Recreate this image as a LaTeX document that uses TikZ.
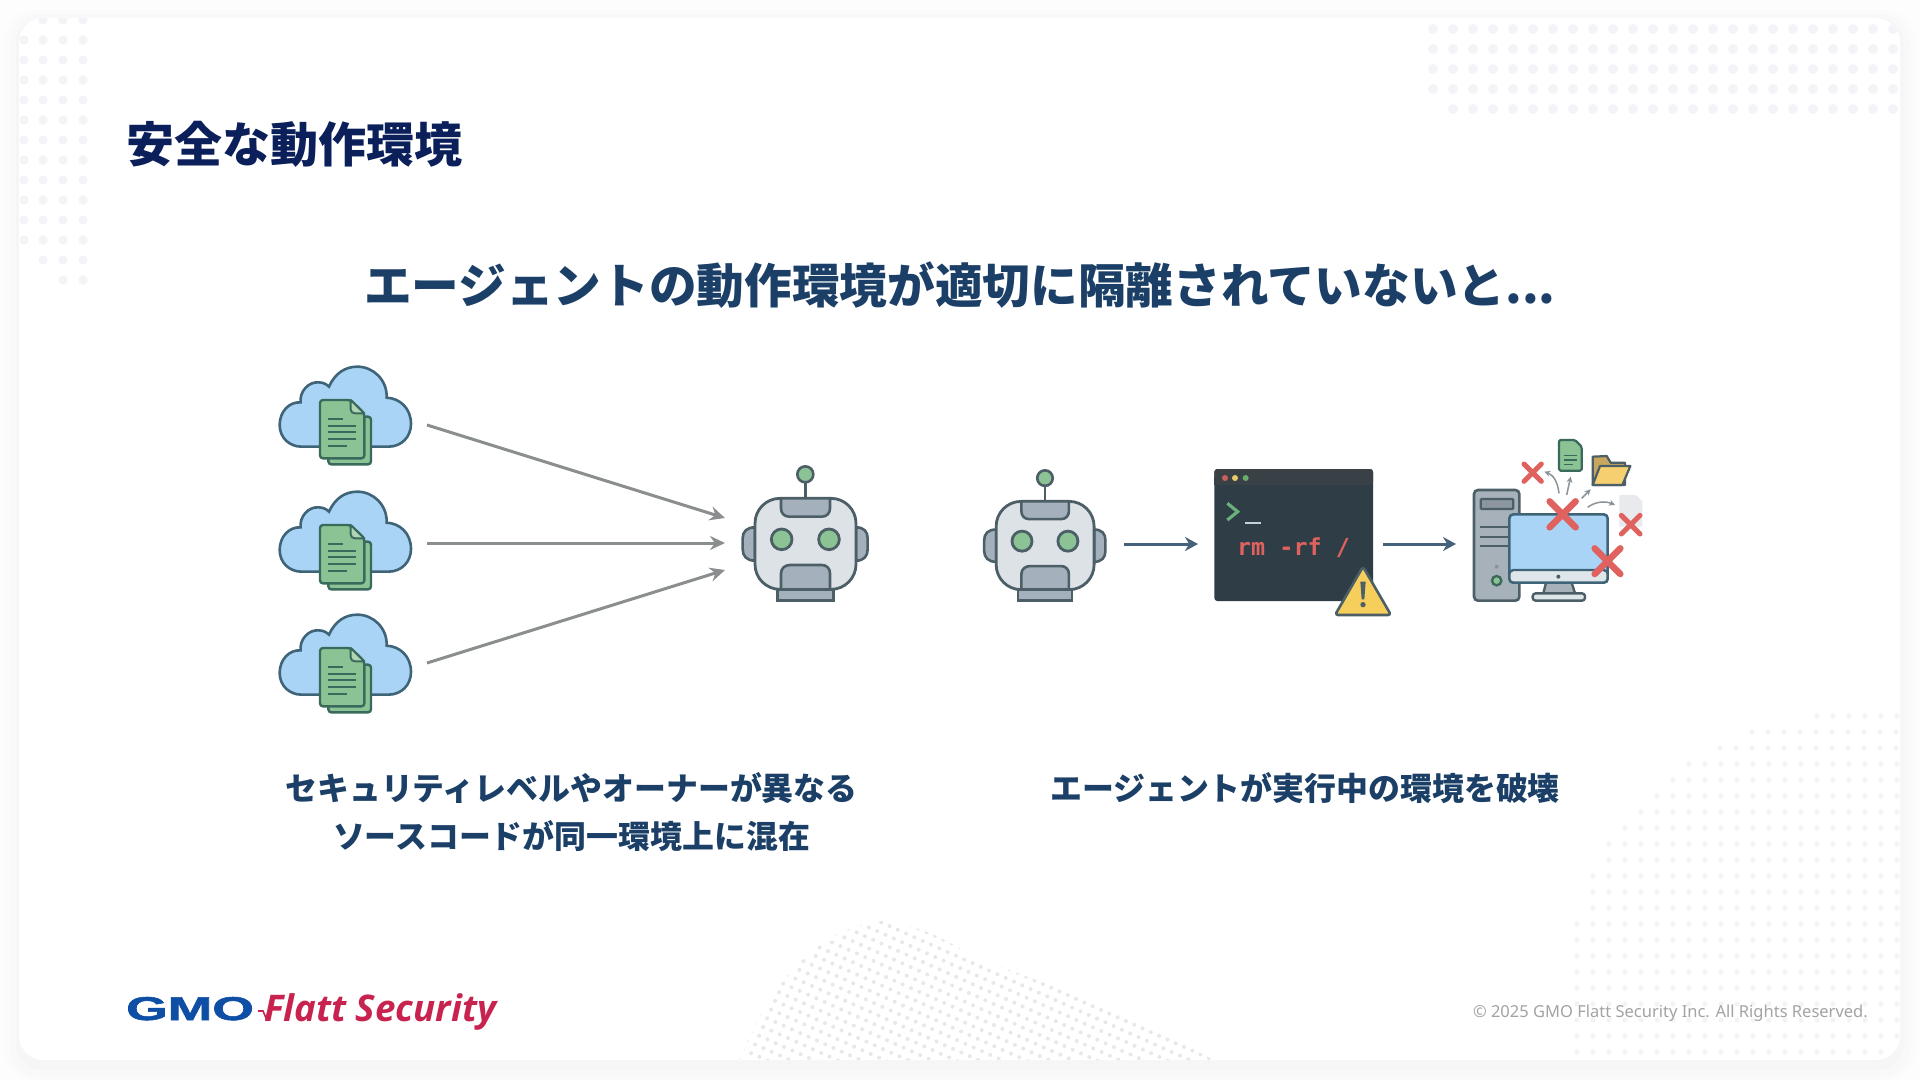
\documentclass[tikz,border=0pt]{standalone}
\usepackage{fontspec}
\usetikzlibrary{arrows.meta,calc}
\newfontfamily\jpfont{Noto Sans CJK JP}
\newfontfamily\monobold{DejaVu Sans Mono}
\newfontfamily\footfont{Noto Sans}
\newfontfamily\logofont[BoldFeatures={FakeBold=1.5}]{Liberation Sans}
\newfontfamily\logoit[ItalicFeatures={FakeBold=0.6}]{Open Sans}
\definecolor{titlecol}{HTML}{0B1F5B}
\definecolor{headcol}{HTML}{1B3F66}
\definecolor{cloudfill}{HTML}{A9D4F5}
\definecolor{cloudline}{HTML}{3F6478}
\definecolor{docfill}{HTML}{8CC394}
\definecolor{docline}{HTML}{3A6A5C}
\definecolor{botline}{HTML}{4C5F66}
\definecolor{botface}{HTML}{DDE2E7}
\definecolor{botplate}{HTML}{A4B1BC}
\definecolor{arrowgray}{HTML}{8B8E8E}
\definecolor{arrowblue}{HTML}{46627A}
\definecolor{termbg}{HTML}{2F3D46}
\definecolor{termbar}{HTML}{3A4146}
\definecolor{redx}{HTML}{DF625E}
\definecolor{warnfill}{HTML}{F6CE5C}
\definecolor{foldback}{HTML}{C7A660}
\definecolor{foldfront}{HTML}{F5CF70}
\definecolor{towerfill}{HTML}{A6B1B9}
\definecolor{screenband}{HTML}{DEE6EA}
\definecolor{ghost}{HTML}{E9EAED}
\definecolor{smallarrow}{HTML}{8B9599}
\definecolor{gmoblue}{HTML}{0E4FA5}
\definecolor{flattred}{HTML}{C8224E}
\definecolor{foottext}{HTML}{A3A3A6}
\tikzset{
  titletext/.style={font=\jpfont\bfseries\fontsize{48}{58}\selectfont,text=titlecol,inner sep=0pt,anchor=west},
  headtext/.style={font=\jpfont\bfseries\fontsize{47.65}{58}\selectfont,text=headcol,inner sep=0pt},
  captext/.style={font=\jpfont\bfseries\fontsize{31.9}{48.5}\selectfont,text=headcol,inner sep=0pt,align=center},
  grayarrow/.style={draw=arrowgray,line width=3pt,-{Stealth[length=15pt,width=14pt]}},
  bluearrow/.style={draw=arrowblue,line width=3pt,-{Stealth[length=13pt,width=14pt]}},
  redcross/.style={draw=redx,line cap=round},
  tinyarrow/.style={draw=smallarrow,line width=1.5pt,-{Stealth[length=6pt,width=6pt]}},
  cloudpic/.pic={
    \draw[fill=cloudfill,draw=cloudline,line width=2.6pt]
      (125,290) .. controls (87,290) and (59,262) .. (59,225)
      .. controls (59,185) and (87,155) .. (122,157)
      .. controls (118,125) and (145,95) .. (175,97)
      .. controls (190,97) and (200,103) .. (207,110)
      .. controls (225,70) and (255,50) .. (292,50)
      .. controls (340,50) and (382,90) .. (380,143)
      .. controls (420,145) and (453,175) .. (453,222)
      .. controls (453,260) and (425,290) .. (385,290) -- cycle;
    \draw[fill=docfill,draw=docline,line width=2.4pt,rounded corners=3pt] (205,200) rectangle (333,343);
    \draw[fill=docfill,draw=docline,line width=2.4pt,rounded corners=3pt]
      (180,150) -- (272,150) -- (313,190) -- (313,325) -- (180,325) -- cycle;
    \draw[fill=docfill!70!white,draw=docline,line width=2pt,line join=round]
      (272,150) -- (272,178) .. controls (272,186) and (278,190) .. (285,190) -- (313,190) -- cycle;
    \draw[docline,line width=1.8pt]
      (205,207) -- (250,207) (205,227) -- (287,227) (205,247) -- (287,247)
      (205,267) -- (287,267) (205,287) -- (260,287);
  },
  robotpic/.pic={
    \draw[botline,line width=2.6pt] (256,97) -- (256,145);
    \draw[fill=docfill,draw=botline,line width=2.6pt] (256,73) circle (24);
    \draw[fill=botplate,draw=botline,line width=2.6pt]
      (105,232) .. controls (80,232) and (68,245) .. (68,265) -- (68,298)
      .. controls (68,318) and (80,332) .. (105,332) -- cycle;
    \draw[fill=botplate,draw=botline,line width=2.6pt]
      (408,232) .. controls (432,232) and (443,245) .. (443,265) -- (443,298)
      .. controls (443,318) and (432,332) .. (408,332) -- cycle;
    \draw[fill=botface,draw=botline,line width=2.8pt,rounded corners=25pt] (105,145) rectangle (408,418);
    \draw[fill=botplate,draw=botline,line width=2.6pt]
      (183,145) -- (183,175) .. controls (183,190) and (193,200) .. (208,200) -- (305,200)
      .. controls (320,200) and (330,190) .. (330,175) -- (330,145) -- cycle;
    \draw[fill=docfill,draw=botline,line width=2.8pt] (185,268) circle (31);
    \draw[fill=docfill,draw=botline,line width=2.8pt] (327,268) circle (31);
    \draw[fill=botplate,draw=botline,line width=2.6pt]
      (183,418) -- (183,370) .. controls (183,355) and (195,345) .. (210,345) -- (305,345)
      .. controls (320,345) and (330,355) .. (330,370) -- (330,418) -- cycle;
    \draw[fill=botplate,draw=botline,line width=2.6pt] (173,418) rectangle (340,452);
  }
}
\begin{document}
\begin{tikzpicture}[x=1pt,y=-1pt]
\useasboundingbox (0,0) rectangle (1920,1080);
% page and soft shadow
\fill[fill={rgb,255:red,253;green,253;blue,253}] (0,0) rectangle (1920,1080);
\fill[fill={rgb,255:red,251;green,251;blue,252},rounded corners=34pt] (4,10) rectangle (1916,1080);
\fill[fill={rgb,255:red,249;green,249;blue,250},rounded corners=30pt] (10,14) rectangle (1910,1078);
\fill[fill={rgb,255:red,246;green,246;blue,247},rounded corners=26pt] (16,18) rectangle (1904,1070);
\begin{scope}
\fill[white,rounded corners=24pt] (19,18) rectangle (1900,1060);
\clip[rounded corners=24pt] (19,18) rectangle (1900,1060);
% dots: top right
\fill[fill={rgb,255:red,244;green,244;blue,248}]
  \foreach \yy in {29,49,69,89} { \foreach \xx in {1433,1453,...,1893} { (\xx,\yy) circle (5) } }
  \foreach \xx in {1453,1473,...,1893} { (\xx,109) circle (5) };
% dots: top left
\fill[fill={rgb,255:red,243;green,244;blue,247}]
  \foreach \xx in {24,43,63,83} { \foreach \yy in {20,40,...,240} { (\xx,\yy) circle (4.6) } }
  \foreach \xx in {43,63,83} { (\xx,260) circle (4.6) }
  (63,280) circle (4.6) (83,280) circle (4.6);
% dots: bottom right
\fill[fill={rgb,255:red,242;green,243;blue,245}]
  \foreach \yy/\xs in {716/1817,732/1752,748/1720,764/1689,780/1673,796/1657,812/1641,828/1625,844/1609,860/1609,876/1593,892/1593,908/1593,924/1577,940/1577,956/1577,972/1577,988/1577,1004/1577,1020/1577,1036/1577,1052/1577}
  { \foreach \xx in {0,16,...,336} { \ifnum\numexpr\xs+\xx\relax<1905 ({\xs+\xx},\yy) circle (2.5) \fi } };
% dots: bottom centre
\begin{scope}
\clip plot[smooth] coordinates {(735,1070) (763,1010) (790,973) (817,947) (847,930) (883,921) (930,933) (983,960) (1063,990) (1157,1030) (1235,1072)} -- cycle;
\fill[fill={rgb,255:red,232;green,232;blue,234}]
  \foreach \i in {-12,...,54} { \foreach \j in {-10,...,22} { ({840+8.3*\i-4*\j},{925+3.7*\i+8.7*\j}) circle (2) } };
\end{scope}
\end{scope}
% texts
\node[titletext] (pagetitle) at (126,144) {安全な動作環境};
\node[headtext] (subhead) at (960,285) {エージェントの動作環境が適切に隔離されていないと...};
\node[captext] (capleft) at (571.5,812) {セキュリティレベルやオーナーが異なる\\ソースコードが同一環境上に混在};
\node[captext] (capright) at (1305,788) {エージェントが実行中の環境を破壊};
% clouds
\pic[scale=1/3] at (260,350) {cloudpic};
\pic[scale=1/3] at (260,475) {cloudpic};
\pic[scale=1/3] at (260,598) {cloudpic};
% robots
\pic[scale=1/3] at (720,450) {robotpic};
\pic[scale=0.3233] at (962.2,454.5) {robotpic};
% connector ends
\coordinate (cloudA) at (427,425);
\coordinate (cloudB) at (427,543);
\coordinate (cloudC) at (427,663);
\coordinate (botA) at (725,518);
\coordinate (botB) at (725,543);
\coordinate (botC) at (725,570);
\coordinate (botOut) at (1124,544);
\coordinate (termIn) at (1198,544);
\coordinate (termOut) at (1383,544);
\coordinate (pcIn) at (1456,544);
\draw[grayarrow] (cloudA) -- (botA);
\draw[grayarrow] (cloudB) -- (botB);
\draw[grayarrow] (cloudC) -- (botC);
\draw[bluearrow] (botOut) -- (termIn);
\draw[bluearrow] (termOut) -- (pcIn);
% terminal
\begin{scope}[shift={(1200,460)},scale=1/3]
\fill[termbg,rounded corners=3pt] (43,27) rectangle (519,423);
\fill[termbar,rounded corners=3pt] (43,27) rectangle (519,75);
\fill[termbar] (43,50) rectangle (519,75);
\fill[fill={rgb,255:red,201;green,96;blue,90}] (75,54) circle (9);
\fill[fill={rgb,255:red,237;green,200;blue,107}] (105,54) circle (9);
\fill[fill={rgb,255:red,105;green,173;blue,110}] (137,54) circle (9);
\draw[draw={rgb,255:red,106;green,176;blue,122},line width=3.2pt] (82,130) -- (113,155) -- (82,180);
\draw[draw={rgb,255:red,197;green,208;blue,213},line width=2.2pt] (135,190) -- (182,190);
\draw[fill=warnfill,draw=botline,line width=2.6pt,line join=round,rounded corners=3pt] (489,320) -- (573,465) -- (405,465) -- cycle;
\fill[botline] (481,365) -- (497,365) -- (493,418) -- (485,418) -- cycle;
\fill[botline] (489,434) circle (8);
\end{scope}
\node[font=\monobold\bfseries\fontsize{23.4}{28}\selectfont,text=redx,inner sep=0pt] (termcmd) at (1293.5,548) {rm -rf /};
% computer
\begin{scope}[shift={(1460,430)},scale=1/3]
\draw[fill=towerfill,draw=botline,line width=2.6pt,rounded corners=4pt] (42,180) rectangle (178,512);
\draw[fill=botplate!85!black,draw=botline,line width=2.2pt,rounded corners=1pt] (62,207) rectangle (160,237);
\draw[botline,line width=2.2pt] (60,290) -- (150,290) (60,320) -- (150,320) (60,348) -- (150,348);
\fill[smallarrow] (110,410) circle (6);
\draw[fill=docfill,draw=docline,line width=2.4pt] (110,452) circle (14);
\draw[fill=cloudfill,draw=cloudline,line width=2.6pt,rounded corners=4pt] (148,253) rectangle (443,458);
\fill[towerfill] (258,458) -- (335,458) -- (345,490) -- (250,490) -- cycle;
\draw[botline,line width=2.4pt] (258,458) -- (250,490) (335,458) -- (345,490);
\draw[fill=screenband,draw=botline,line width=2.4pt,rounded corners=3pt] (218,490) rectangle (375,512);
\draw[fill=screenband,draw=cloudline,line width=2.4pt,rounded corners=4pt] (148,420) -- (148,458) -- (443,458) -- (443,420) -- cycle;
\fill[botline] (295,440) circle (6);
% file icons
\draw[fill=docfill,draw=docline,line width=2.2pt,line join=round,rounded corners=1.5pt] (297,30) -- (345,30) -- (365,50) -- (365,122) -- (297,122) -- cycle;
\draw[docline,line width=1.5pt] (311,77) -- (352,77) (311,90) -- (352,90) (311,103) -- (340,103);
\draw[fill=foldback,draw=botline,line width=2.2pt,line join=round] (398,80) -- (440,78) -- (452,98) -- (495,98) -- (495,165) -- (398,165) -- cycle;
\draw[fill=foldfront,draw=botline,line width=2.2pt,line join=round] (398,165) -- (420,108) -- (511,108) -- (487,165) -- cycle;
\fill[ghost] (478,195) -- (528,195) -- (547,215) -- (547,290) -- (478,290) -- cycle;
\draw[tinyarrow] (297,190) .. controls (293,155) and (280,135) .. (253,125);
\draw[tinyarrow] (320,195) -- (332,140);
\draw[tinyarrow] (365,205) -- (392,178);
\draw[tinyarrow] (383,232) .. controls (405,215) and (435,212) .. (465,225);
\draw[redcross,line width=5pt] (192,102) -- (244,154) (244,102) -- (192,154);
\draw[redcross,line width=6.5pt] (269,214) -- (347,292) (347,214) -- (269,292);
\draw[redcross,line width=6.5pt] (404,355) -- (481,432) (481,355) -- (404,432);
\draw[redcross,line width=5pt] (484,256) -- (540,312) (540,256) -- (484,312);
\end{scope}
% logo
\node[font=\logofont\bfseries\fontsize{33}{40}\selectfont,text=gmoblue,inner sep=0pt,anchor=base west] (logogmo) at (126,1020) {\scalebox{1.62}[1]{GMO}};
\draw[flattred,line width=1.6pt] (258,1011) -- (263,1011) -- (266,1018) -- (273,1000);
\node[font=\logoit\bfseries\itshape\fontsize{36.7}{40}\selectfont,text=flattred,inner sep=0pt,anchor=base west] (logoflat) at (264,1021.5) {Flatt Security};
% footer
\node[font=\footfont\fontsize{16.5}{20}\selectfont,text=foottext,inner sep=0pt,anchor=east] (footer) at (1868,1013) {© 2025 GMO Flatt Security Inc. All Rights Reserved.};
\end{tikzpicture}
\end{document}
